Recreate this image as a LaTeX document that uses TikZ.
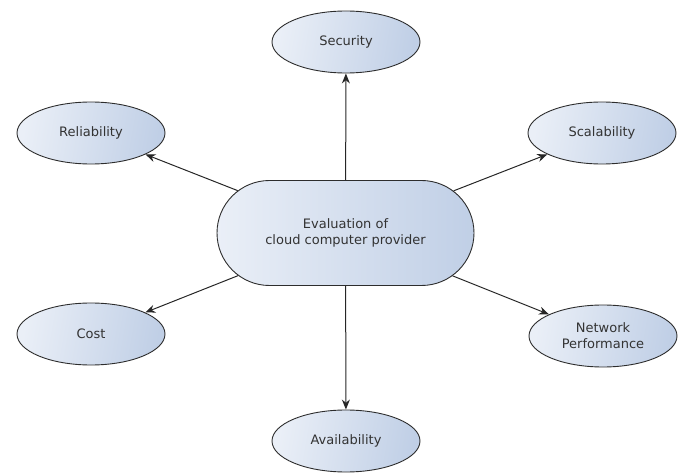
\documentclass[tikz,border=0pt]{standalone}
\usepackage{fontspec}
\setmainfont{DejaVu Sans}
\usetikzlibrary{arrows.meta}
\usetikzlibrary{shapes.geometric}
\usetikzlibrary{shapes.misc}
\definecolor{fillLight}{RGB}{234,239,247}
\definecolor{fillDark}{RGB}{192,207,230}
\definecolor{edgeGray}{RGB}{45,45,45}
\newcommand{\drawLinkArrow}[2]{
	\draw[link] (#1) -- (#2);
}

\begin{document}
\begin{tikzpicture}[x=1pt, y=-1pt,
		font=\fontsize{13}{16}\selectfont,
		criterion/.style={ellipse, draw=edgeGray, line width=0.9pt,
			left color=fillLight, right color=fillDark, shading angle=80,
			minimum width=148pt, minimum height=62pt, inner sep=0pt,
			text=black!80, align=center},
		hub/.style={rounded rectangle, draw=edgeGray, line width=0.9pt,
			left color=fillLight, right color=fillDark,
			minimum width=257pt, minimum height=105pt, inner sep=0pt,
			text=black!80, align=center},
		link/.style={draw=black!85, line width=1pt,
			-{Stealth[length=10pt, width=8pt]}}]
		\useasboundingbox (0,0) rectangle (686,473);

		\node[hub] (eval) at (345.5,233) {Evaluation of\\cloud computer provider};
		\node[criterion] (security) at (346,42) {Security};
		\node[criterion] (reliability) at (91,133) {Reliability};
		\node[criterion] (scalability) at (602,133) {Scalability};
		\node[criterion] (cost) at (91,334) {Cost};
		\node[criterion] (network) at (603,336) {Network\\Performance};
		\node[criterion] (availability) at (346,441) {Availability};

		\drawLinkArrow{eval}{security}
		\drawLinkArrow{eval}{reliability}
		\drawLinkArrow{eval}{scalability}
		\drawLinkArrow{eval}{cost}
		\drawLinkArrow{eval}{network}
		\drawLinkArrow{eval}{availability}

	\end{tikzpicture}
\end{document}
